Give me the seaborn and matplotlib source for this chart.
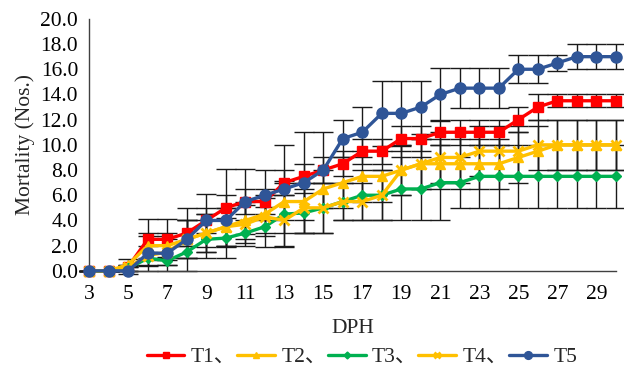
import pandas as pd
import matplotlib.pyplot as plt
import seaborn as sns

# Data (mean mortality per day post hatch)
days = list(range(3, 31))
t1 = [0, 0, 0.33, 2.5, 2.5, 3.0, 4.0, 5.0, 5.5, 5.5, 7.0, 7.5, 8.0, 8.5,
      9.5, 9.5, 10.5, 10.5, 11.0, 11.0, 11.0, 11.0, 12.0, 13.0, 13.5, 13.5, 13.5, 13.5]
t2 = [0, 0, 0.5, 2.0, 2.0, 2.5, 3.0, 3.5, 4.0, 4.5, 5.5, 5.5, 6.5, 7.0,
      7.5, 7.5, 8.0, 8.5, 8.5, 8.5, 8.5, 8.5, 9.0, 9.5, 10.0, 10.0, 10.0, 10.0]
t3 = [0, 0, 0.2, 1.0, 0.8, 1.5, 2.5, 2.6, 3.0, 3.5, 4.5, 4.6, 5.0, 5.5,
      6.0, 6.0, 6.5, 6.5, 7.0, 7.0, 7.5, 7.5, 7.5, 7.5, 7.5, 7.5, 7.5, 7.5]
t4 = [0, 0, 0.3, 1.2, 1.5, 2.5, 3.0, 3.5, 3.7, 4.3, 4.0, 5.0, 5.0, 5.5,
      5.5, 6.0, 8.0, 8.5, 9.0, 9.0, 9.5, 9.5, 9.5, 10.0, 10.0, 10.0, 10.0, 10.0]
t5 = [0, 0, 0, 1.4, 1.4, 2.5, 4.0, 4.0, 5.5, 6.0, 6.5, 7.0, 8.0, 10.5,
      11.0, 12.5, 12.5, 13.0, 14.0, 14.5, 14.5, 14.5, 16.0, 16.0, 16.5, 17.0, 17.0, 17.0]

# Error bars (SD)
e1 = [0, 0, 0.58, 1.6, 1.6, 1.0, 1.0, 3.1, 1.0, 1.0, 1.0, 1.0, 1.0, 1.0,
      1.0, 1.0, 1.0, 1.0, 1.0, 1.0, 1.0, 1.0, 1.0, 1.0, 0.5, 0.5, 0.5, 0.5]
e2 = [0, 0, 0, 1.0, 1.0, 1.5, 1.5, 1.5, 1.5, 1.5, 1.5, 1.5, 1.5, 2.0,
      2.0, 2.0, 2.0, 2.0, 2.0, 2.0, 2.0, 2.0, 2.0, 2.0, 2.0, 2.0, 2.0, 2.0]
e3 = [0, 0, 0.2, 0.5, 0.3, 0.5, 1.5, 1.6, 1.0, 1.6, 2.6, 1.6, 2.0, 1.5,
      2.0, 2.0, 2.5, 2.5, 3.0, 2.0, 2.5, 2.5, 2.5, 2.5, 2.5, 2.5, 2.5, 2.5]
e4 = [0, 0, 0, 0.8, 1.0, 1.5, 1.5, 1.5, 1.5, 1.5, 2.0, 2.0, 2.0, 1.5,
      1.5, 2.0, 2.0, 2.0, 2.0, 2.0, 2.0, 2.0, 2.0, 2.0, 2.0, 2.0, 2.0, 2.0]
e5 = [0, 0, 0, 1.4, 1.4, 2.5, 2.1, 2.0, 2.6, 2.0, 3.5, 4.0, 3.0, 1.5,
      2.0, 2.6, 2.6, 2.1, 2.1, 1.6, 1.6, 1.6, 1.1, 1.1, 0.6, 1.0, 1.0, 1.0]

labels = ['T1、', 'T2、', 'T3、', 'T4、', 'T5']
colors = ['#FF0000', '#FFC000', '#00B050', '#FFC000', '#2F5597']
markers = ['s', '^', 'D', 'x', 'o']
msizes = [7, 7, 5, 7, 8]

sns.set_style('white')
plt.rcParams['font.family'] = ['Liberation Serif', 'Noto Sans CJK SC']

fig = plt.figure(figsize=(6.24, 3.70), dpi=100)
ax = fig.add_axes([0.143, 0.268, 0.844, 0.681])

series = [t1, t2, t3, t4, t5]
errs = [e1, e2, e3, e4, e5]

for vals, err in zip(series, errs):
    ax.errorbar(days, vals, yerr=err, fmt='none', ecolor='#1a1a1a',
                elinewidth=1, capsize=7, capthick=1, zorder=1, clip_on=False)

for vals, lab, c, m, ms in zip(series, labels, colors, markers, msizes):
    sns.lineplot(x=days, y=vals, ax=ax, color=c, marker=m, markersize=ms,
                 markeredgecolor=c, markeredgewidth=2 if m == 'x' else 1,
                 linewidth=2.4, label=lab, zorder=3, clip_on=False)

ax.set_xlim(3, 30)
ax.set_ylim(0, 20)
ax.set_xticks(list(range(3, 30, 2)))
ax.set_yticks(list(range(0, 21, 2)))
ax.set_yticklabels([f'{v:.1f}' for v in range(0, 21, 2)])
ax.tick_params(axis='y', labelsize=15.5, length=0, pad=8, colors='black')
ax.tick_params(axis='x', labelsize=15.5, length=0, pad=10, colors='black')
ax.set_xlabel('DPH', fontsize=15.5, labelpad=11)
ax.set_ylabel('Mortality (Nos.)', fontsize=15.5, labelpad=4)

for side in ['top', 'right']:
    ax.spines[side].set_visible(False)
for side in ['left', 'bottom']:
    ax.spines[side].set_color('#404040')
    ax.spines[side].set_linewidth(1)

ax.get_legend().remove()
handles, labs = ax.get_legend_handles_labels()
fig.legend(handles, labs, loc='center', bbox_to_anchor=(0.58, 0.035), ncol=5,
           frameon=False, fontsize=15.5, handlelength=1.75, columnspacing=0.05,
           handletextpad=0.3, markerscale=0.7)

plt.savefig('out.png', dpi=100)
